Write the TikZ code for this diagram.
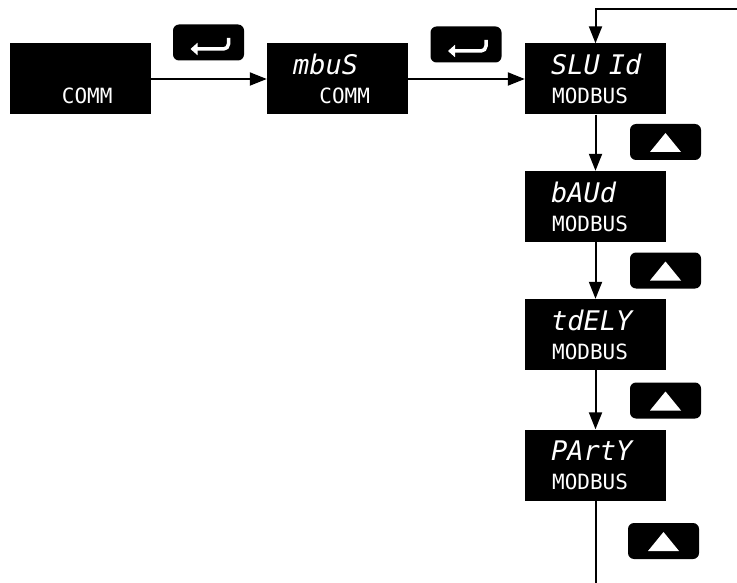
\documentclass[tikz,border=0pt]{standalone}
\usepackage{fontspec}
\usepackage{tikz}
\usetikzlibrary{arrows.meta, calc}
\newfontfamily\segfont{DejaVu Sans Mono}
\newcommand{\segtop}{\segfont\itshape\fontsize{27}{29}\selectfont}
\newcommand{\segbot}{\segfont\fontsize{21}{29}\selectfont}
\newcommand{\lcd}[2]{{\segtop\vphantom{Id}\mbox{#1}}\\\hspace*{\fill}{\segbot #2}\hspace*{12pt}}
\tikzset{
  display/.style={rectangle, fill=black, text=white,
    minimum width=141pt, minimum height=71pt, inner sep=0pt,
    text width=89pt, align=left, font=\fontsize{27}{29}\selectfont},
  enterkey/.style={rectangle, fill=black, rounded corners=6pt,
    minimum width=71pt, minimum height=36pt, inner sep=0pt,
    path picture={\draw[shift={(path picture bounding box.center)}, white,
      line width=3.5pt, rounded corners=5pt, {Triangle[length=7pt,width=12pt]}-]
      (-18pt,-6.5pt) -- (20pt,-6.5pt) -- (20pt,4.5pt);}},
  upkey/.style={rectangle, fill=black, rounded corners=6pt,
    minimum width=71pt, minimum height=36pt, inner sep=0pt,
    path picture={\fill[shift={(path picture bounding box.center)}, white, sharp corners]
      (-15.5pt,-10pt) -- (15.5pt,-10pt) -- (0pt,9pt) -- cycle;}},
  flow/.style={-{Triangle[length=17pt,width=13pt]}, line width=2pt, color=black},
  line/.style={line width=2pt, color=black}
}
\begin{document}
\begin{tikzpicture}[x=1pt, y=-1pt]
  \useasboundingbox (0,0) rectangle (737,583);
  % Displays
  \node[display] (comm) at (80,79) {\lcd{}{COMM}};
  \node[display] (mbus) at (337.5,79) {\lcd{mbuS}{COMM}};
  \node[display] (slvid) at (595.5,79) {\lcd{SLU Id}{MODBUS}};
  \node[display] (baud) at (595.5,206.5) {\lcd{bAUd}{MODBUS}};
  \node[display] (tdely) at (595.5,334.5) {\lcd{tdELY}{MODBUS}};
  \node[display] (party) at (595.5,465) {\lcd{PArtY}{MODBUS}};

  % Keys
  \node[enterkey] (entA) at (208.5,42.5) {};
  \node[enterkey] (entB) at (466,44.5) {};
  \node[upkey] (upA) at (665.5,142) {};
  \node[upkey] (upB) at (665.5,270.5) {};
  \node[upkey] (upC) at (665.5,400.5) {};
  \node[upkey] (upD) at (663.5,541) {};

  \coordinate (loopin) at (737,9);
  \coordinate (loopout) at (595.5,583);

  % Flows
  \draw[flow] (comm) -- (mbus);
  \draw[flow] (mbus) -- (slvid);
  \draw[flow] (loopin) -| (slvid.north);
  \draw[flow] (slvid) -- (baud);
  \draw[flow] (baud) -- (tdely);
  \draw[flow] (tdely) -- (party);
  \draw[line] (party) -- (loopout);
\end{tikzpicture}
\end{document}
